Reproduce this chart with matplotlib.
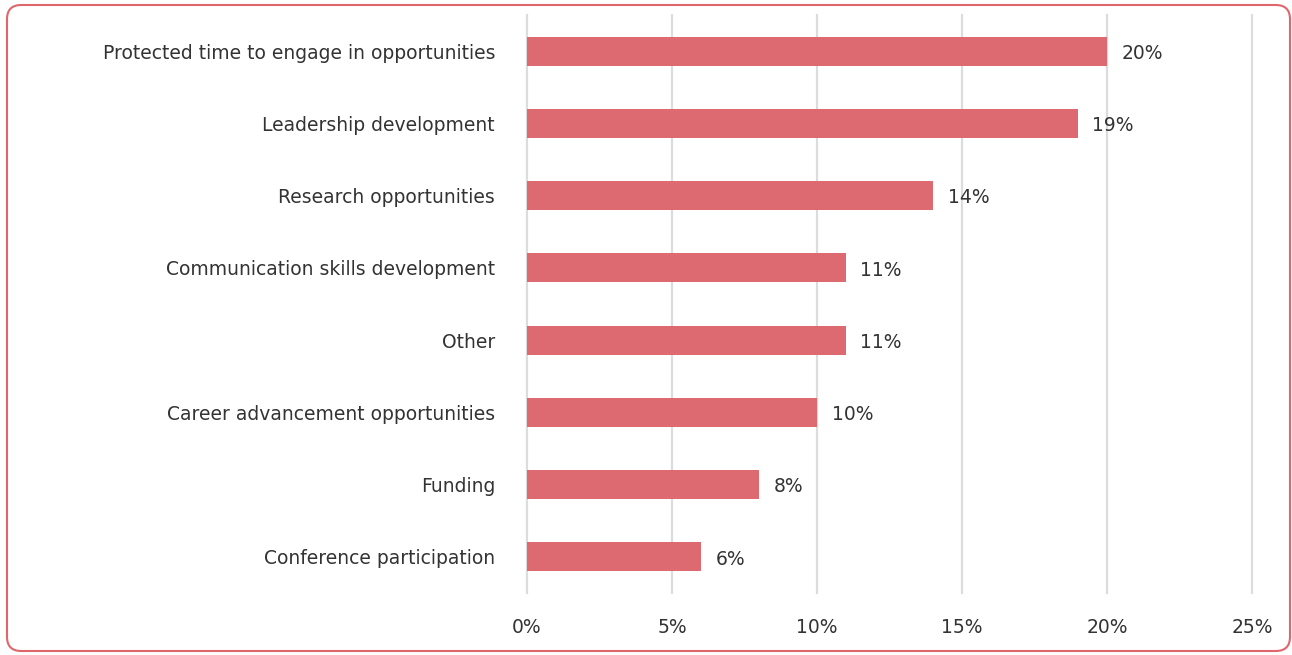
import matplotlib
matplotlib.use("Agg")
import matplotlib.pyplot as plt
from matplotlib.patches import FancyBboxPatch

categories = ["Protected time to engage in opportunities", "Leadership development",
              "Research opportunities", "Communication skills development", "Other",
              "Career advancement opportunities", "Funding", "Conference participation"]
values = [20, 19, 14, 11, 11, 10, 8, 6]
xticks = [0, 5, 10, 15, 20, 25]
xtick_labels = ["0%", "5%", "10%", "15%", "20%", "25%"]

plt.rcParams['font.family'] = ['DejaVu Sans']
txt = "#333333"
bar_color = "#DD6A70"
fs = 13.5

fig = plt.figure(figsize=(12.92, 6.55), dpi=100)
ax = fig.add_axes([527/1292, 1-593/655, 725/1292, 578/655])

ypos = list(range(len(categories)))[::-1]
ax.barh(ypos, values, height=0.4, color=bar_color, zorder=3)
for y, v in zip(ypos, values):
    ax.text(v + 0.5, y - 0.03, f"{v}%", va="center", ha="left", fontsize=fs, color=txt)

ax.set_xlim(0, 25)
ax.set_ylim(-0.5, 7.5)
ax.set_yticks(ypos)
ax.set_yticklabels(categories, fontsize=fs, color=txt)
ax.set_xticks(xticks)
ax.set_xticklabels(xtick_labels, fontsize=fs, color=txt)
ax.tick_params(axis='both', length=0)
ax.tick_params(axis='y', pad=23)
ax.tick_params(axis='x', pad=18)
ax.grid(axis='x', color="#dcdcdc", linewidth=1.6, zorder=0)
for gl in ax.get_xgridlines():
    gl.set_clip_on(False)
for s in ax.spines.values():
    s.set_visible(False)

border = FancyBboxPatch((7/1292, 4/655), 1283/1292, 646/655,
                        boxstyle="round,pad=0,rounding_size=0.011",
                        transform=fig.transFigure, fill=False,
                        edgecolor="#E0666C", linewidth=1.5, mutation_aspect=1292/655)
fig.patches.append(border)

fig.savefig("out.png", dpi=100)
